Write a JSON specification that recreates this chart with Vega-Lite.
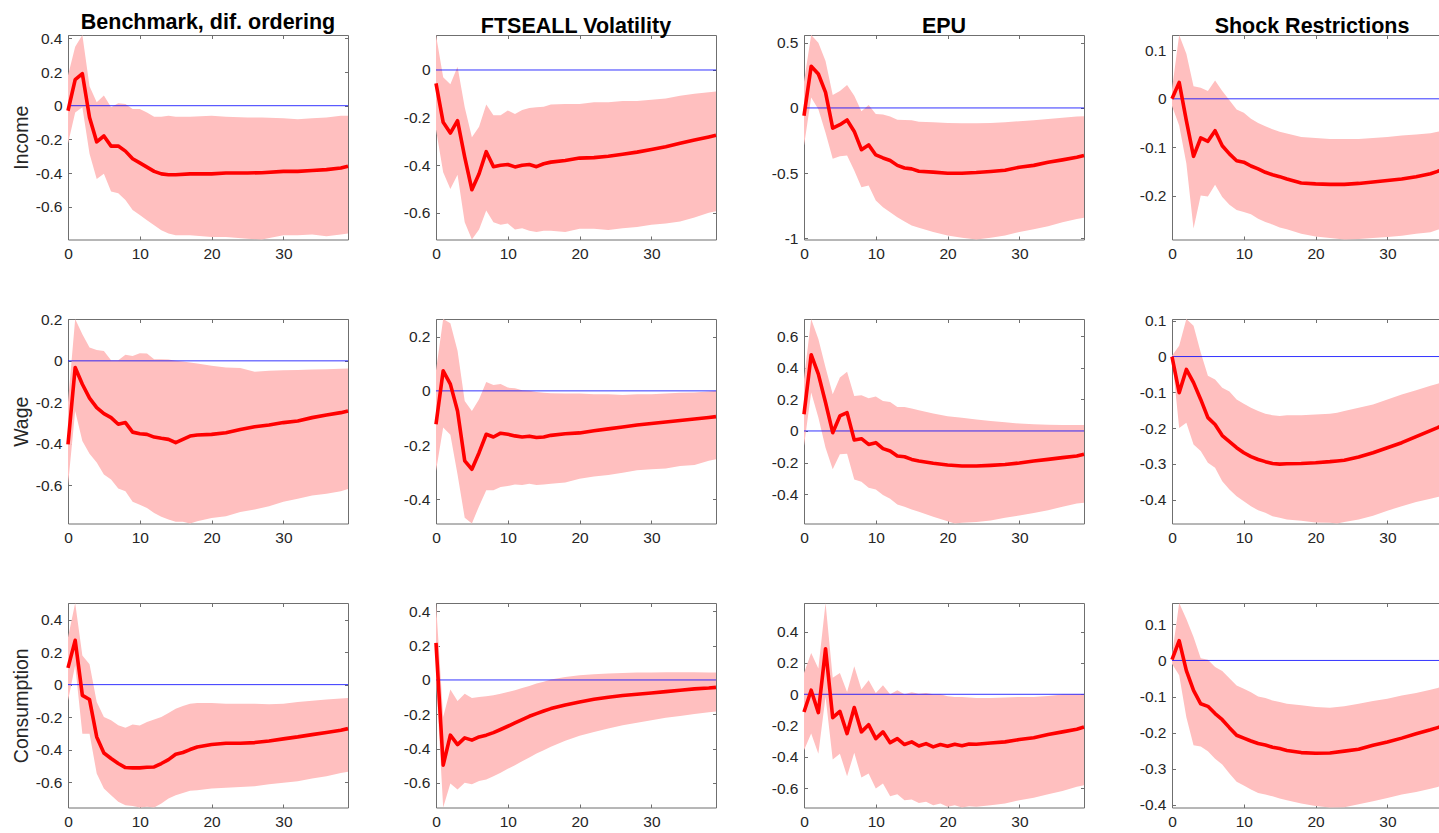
{
"$schema": "https://vega.github.io/schema/vega-lite/v6.json",
"padding": {"left": 10, "top": 11, "right": 5, "bottom": 0},
"background": "white",
"data": {"values": [
{"p":"a","x":0,"m":-0.03,"lo":-0.225,"hi":0.18},{"p":"a","x":1,"m":0.155,"lo":-0.04,"hi":0.35},{"p":"a","x":2,"m":0.19,"lo":-0.01,"hi":0.42},{"p":"a","x":3,"m":-0.07,"lo":-0.285,"hi":0.115},{"p":"a","x":4,"m":-0.215,"lo":-0.435,"hi":0.02},{"p":"a","x":5,"m":-0.18,"lo":-0.405,"hi":0.06},{"p":"a","x":6,"m":-0.24,"lo":-0.51,"hi":-0.01},{"p":"a","x":7,"m":-0.24,"lo":-0.52,"hi":0.015},{"p":"a","x":8,"m":-0.27,"lo":-0.56,"hi":0.01},{"p":"a","x":9,"m":-0.315,"lo":-0.62,"hi":-0.02},{"p":"a","x":10,"m":-0.34,"lo":-0.65,"hi":-0.02},{"p":"a","x":11,"m":-0.365,"lo":-0.68,"hi":-0.04},{"p":"a","x":12,"m":-0.39,"lo":-0.71,"hi":-0.065},{"p":"a","x":13,"m":-0.405,"lo":-0.74,"hi":-0.065},{"p":"a","x":14,"m":-0.41,"lo":-0.76,"hi":-0.06},{"p":"a","x":15,"m":-0.41,"lo":-0.77,"hi":-0.065},{"p":"a","x":17,"m":-0.405,"lo":-0.77,"hi":-0.065},{"p":"a","x":20,"m":-0.405,"lo":-0.78,"hi":-0.06},{"p":"a","x":22,"m":-0.4,"lo":-0.78,"hi":-0.065},{"p":"a","x":25,"m":-0.4,"lo":-0.79,"hi":-0.07},{"p":"a","x":27,"m":-0.398,"lo":-0.795,"hi":-0.07},{"p":"a","x":30,"m":-0.39,"lo":-0.77,"hi":-0.075},{"p":"a","x":32,"m":-0.39,"lo":-0.77,"hi":-0.08},{"p":"a","x":34,"m":-0.385,"lo":-0.765,"hi":-0.075},{"p":"a","x":36,"m":-0.38,"lo":-0.775,"hi":-0.07},{"p":"a","x":38,"m":-0.37,"lo":-0.765,"hi":-0.06},{"p":"a","x":39,"m":-0.36,"lo":-0.76,"hi":-0.06},
{"p":"b","x":0,"m":-0.056,"lo":-0.25,"hi":0.147},{"p":"b","x":1,"m":-0.22,"lo":-0.43,"hi":-0.03},{"p":"b","x":2,"m":-0.265,"lo":-0.5,"hi":-0.06},{"p":"b","x":3,"m":-0.213,"lo":-0.44,"hi":0.014},{"p":"b","x":4,"m":-0.366,"lo":-0.64,"hi":-0.157},{"p":"b","x":5,"m":-0.503,"lo":-0.712,"hi":-0.283},{"p":"b","x":6,"m":-0.436,"lo":-0.67,"hi":-0.238},{"p":"b","x":7,"m":-0.343,"lo":-0.59,"hi":-0.145},{"p":"b","x":8,"m":-0.406,"lo":-0.64,"hi":-0.19},{"p":"b","x":9,"m":-0.4,"lo":-0.65,"hi":-0.19},{"p":"b","x":10,"m":-0.397,"lo":-0.645,"hi":-0.17},{"p":"b","x":11,"m":-0.407,"lo":-0.67,"hi":-0.185},{"p":"b","x":12,"m":-0.4,"lo":-0.665,"hi":-0.168},{"p":"b","x":13,"m":-0.397,"lo":-0.675,"hi":-0.16},{"p":"b","x":14,"m":-0.406,"lo":-0.68,"hi":-0.157},{"p":"b","x":15,"m":-0.394,"lo":-0.675,"hi":-0.154},{"p":"b","x":16,"m":-0.387,"lo":-0.675,"hi":-0.145},{"p":"b","x":18,"m":-0.38,"lo":-0.68,"hi":-0.143},{"p":"b","x":20,"m":-0.37,"lo":-0.667,"hi":-0.143},{"p":"b","x":22,"m":-0.368,"lo":-0.667,"hi":-0.136},{"p":"b","x":24,"m":-0.362,"lo":-0.672,"hi":-0.136},{"p":"b","x":26,"m":-0.354,"lo":-0.665,"hi":-0.13},{"p":"b","x":28,"m":-0.345,"lo":-0.66,"hi":-0.13},{"p":"b","x":30,"m":-0.334,"lo":-0.65,"hi":-0.125},{"p":"b","x":32,"m":-0.322,"lo":-0.645,"hi":-0.12},{"p":"b","x":34,"m":-0.308,"lo":-0.636,"hi":-0.108},{"p":"b","x":36,"m":-0.294,"lo":-0.62,"hi":-0.1},{"p":"b","x":38,"m":-0.281,"lo":-0.6,"hi":-0.094},{"p":"b","x":39,"m":-0.274,"lo":-0.593,"hi":-0.09},
{"p":"c","x":0,"m":-0.06,"lo":-0.29,"hi":0.2},{"p":"c","x":1,"m":0.32,"lo":0.08,"hi":0.559},{"p":"c","x":2,"m":0.26,"lo":-0.01,"hi":0.5},{"p":"c","x":3,"m":0.12,"lo":-0.19,"hi":0.36},{"p":"c","x":4,"m":-0.155,"lo":-0.39,"hi":0.1},{"p":"c","x":5,"m":-0.128,"lo":-0.37,"hi":0.13},{"p":"c","x":6,"m":-0.092,"lo":-0.365,"hi":0.176},{"p":"c","x":7,"m":-0.18,"lo":-0.48,"hi":0.094},{"p":"c","x":8,"m":-0.32,"lo":-0.607,"hi":-0.026},{"p":"c","x":9,"m":-0.283,"lo":-0.594,"hi":0.023},{"p":"c","x":10,"m":-0.36,"lo":-0.71,"hi":-0.046},{"p":"c","x":11,"m":-0.383,"lo":-0.76,"hi":-0.05},{"p":"c","x":12,"m":-0.403,"lo":-0.8,"hi":-0.066},{"p":"c","x":13,"m":-0.44,"lo":-0.837,"hi":-0.09},{"p":"c","x":14,"m":-0.46,"lo":-0.87,"hi":-0.092},{"p":"c","x":15,"m":-0.467,"lo":-0.9,"hi":-0.095},{"p":"c","x":16,"m":-0.485,"lo":-0.918,"hi":-0.105},{"p":"c","x":18,"m":-0.492,"lo":-0.95,"hi":-0.11},{"p":"c","x":20,"m":-0.5,"lo":-0.977,"hi":-0.115},{"p":"c","x":22,"m":-0.5,"lo":-0.995,"hi":-0.118},{"p":"c","x":24,"m":-0.495,"lo":-1.008,"hi":-0.117},{"p":"c","x":26,"m":-0.487,"lo":-0.995,"hi":-0.115},{"p":"c","x":28,"m":-0.477,"lo":-0.977,"hi":-0.11},{"p":"c","x":30,"m":-0.454,"lo":-0.95,"hi":-0.102},{"p":"c","x":32,"m":-0.44,"lo":-0.93,"hi":-0.095},{"p":"c","x":34,"m":-0.416,"lo":-0.906,"hi":-0.084},{"p":"c","x":36,"m":-0.398,"lo":-0.875,"hi":-0.075},{"p":"c","x":38,"m":-0.378,"lo":-0.85,"hi":-0.066},{"p":"c","x":39,"m":-0.365,"lo":-0.842,"hi":-0.064},
{"p":"d","x":0,"m":0.0,"lo":-0.015,"hi":0.02},{"p":"d","x":1,"m":0.034,"lo":-0.055,"hi":0.132},{"p":"d","x":2,"m":-0.045,"lo":-0.134,"hi":0.093},{"p":"d","x":3,"m":-0.119,"lo":-0.268,"hi":0.026},{"p":"d","x":4,"m":-0.081,"lo":-0.2,"hi":0.023},{"p":"d","x":5,"m":-0.088,"lo":-0.202,"hi":0.016},{"p":"d","x":6,"m":-0.066,"lo":-0.178,"hi":0.038},{"p":"d","x":7,"m":-0.097,"lo":-0.203,"hi":0.016},{"p":"d","x":8,"m":-0.114,"lo":-0.219,"hi":-0.003},{"p":"d","x":9,"m":-0.128,"lo":-0.23,"hi":-0.022},{"p":"d","x":10,"m":-0.131,"lo":-0.234,"hi":-0.029},{"p":"d","x":11,"m":-0.139,"lo":-0.239,"hi":-0.041},{"p":"d","x":12,"m":-0.145,"lo":-0.248,"hi":-0.05},{"p":"d","x":13,"m":-0.152,"lo":-0.255,"hi":-0.057},{"p":"d","x":14,"m":-0.157,"lo":-0.26,"hi":-0.063},{"p":"d","x":15,"m":-0.161,"lo":-0.266,"hi":-0.068},{"p":"d","x":16,"m":-0.166,"lo":-0.27,"hi":-0.072},{"p":"d","x":18,"m":-0.174,"lo":-0.279,"hi":-0.079},{"p":"d","x":20,"m":-0.176,"lo":-0.285,"hi":-0.081},{"p":"d","x":22,"m":-0.177,"lo":-0.288,"hi":-0.083},{"p":"d","x":24,"m":-0.177,"lo":-0.291,"hi":-0.083},{"p":"d","x":26,"m":-0.175,"lo":-0.29,"hi":-0.083},{"p":"d","x":28,"m":-0.172,"lo":-0.288,"hi":-0.081},{"p":"d","x":30,"m":-0.169,"lo":-0.286,"hi":-0.079},{"p":"d","x":32,"m":-0.166,"lo":-0.283,"hi":-0.076},{"p":"d","x":34,"m":-0.161,"lo":-0.279,"hi":-0.074},{"p":"d","x":36,"m":-0.155,"lo":-0.276,"hi":-0.071},{"p":"d","x":37,"m":-0.15,"lo":-0.271,"hi":-0.068},{"p":"d","x":38,"m":-0.146,"lo":-0.268,"hi":-0.065},{"p":"d","x":39,"m":-0.141,"lo":-0.265,"hi":-0.062},
{"p":"e","x":0,"m":-0.403,"lo":-0.6,"hi":-0.2},{"p":"e","x":1,"m":-0.032,"lo":-0.242,"hi":0.202},{"p":"e","x":2,"m":-0.113,"lo":-0.387,"hi":0.129},{"p":"e","x":3,"m":-0.18,"lo":-0.448,"hi":0.065},{"p":"e","x":4,"m":-0.226,"lo":-0.49,"hi":0.052},{"p":"e","x":5,"m":-0.255,"lo":-0.548,"hi":0.048},{"p":"e","x":6,"m":-0.274,"lo":-0.573,"hi":0.003},{"p":"e","x":7,"m":-0.306,"lo":-0.616,"hi":0.003},{"p":"e","x":8,"m":-0.298,"lo":-0.629,"hi":0.029},{"p":"e","x":9,"m":-0.344,"lo":-0.68,"hi":0.024},{"p":"e","x":10,"m":-0.352,"lo":-0.694,"hi":0.037},{"p":"e","x":11,"m":-0.355,"lo":-0.71,"hi":0.035},{"p":"e","x":12,"m":-0.368,"lo":-0.734,"hi":0.008},{"p":"e","x":13,"m":-0.374,"lo":-0.753,"hi":0.008},{"p":"e","x":14,"m":-0.379,"lo":-0.766,"hi":0.006},{"p":"e","x":15,"m":-0.395,"lo":-0.777,"hi":0.0},{"p":"e","x":16,"m":-0.379,"lo":-0.777,"hi":-0.003},{"p":"e","x":17,"m":-0.363,"lo":-0.785,"hi":-0.008},{"p":"e","x":18,"m":-0.358,"lo":-0.774,"hi":-0.013},{"p":"e","x":20,"m":-0.355,"lo":-0.758,"hi":-0.024},{"p":"e","x":22,"m":-0.347,"lo":-0.75,"hi":-0.032},{"p":"e","x":24,"m":-0.331,"lo":-0.729,"hi":-0.035},{"p":"e","x":26,"m":-0.318,"lo":-0.718,"hi":-0.052},{"p":"e","x":28,"m":-0.31,"lo":-0.702,"hi":-0.048},{"p":"e","x":30,"m":-0.298,"lo":-0.68,"hi":-0.045},{"p":"e","x":32,"m":-0.29,"lo":-0.666,"hi":-0.044},{"p":"e","x":34,"m":-0.274,"lo":-0.65,"hi":-0.042},{"p":"e","x":36,"m":-0.261,"lo":-0.642,"hi":-0.04},{"p":"e","x":38,"m":-0.25,"lo":-0.629,"hi":-0.038},{"p":"e","x":39,"m":-0.242,"lo":-0.618,"hi":-0.037},
{"p":"f","x":0,"m":-0.123,"lo":-0.295,"hi":0.074},{"p":"f","x":1,"m":0.074,"lo":-0.135,"hi":0.265},{"p":"f","x":2,"m":0.025,"lo":-0.162,"hi":0.249},{"p":"f","x":3,"m":-0.074,"lo":-0.308,"hi":0.148},{"p":"f","x":4,"m":-0.258,"lo":-0.468,"hi":-0.037},{"p":"f","x":5,"m":-0.289,"lo":-0.489,"hi":-0.074},{"p":"f","x":6,"m":-0.228,"lo":-0.425,"hi":-0.031},{"p":"f","x":7,"m":-0.16,"lo":-0.366,"hi":0.033},{"p":"f","x":8,"m":-0.17,"lo":-0.366,"hi":0.022},{"p":"f","x":9,"m":-0.156,"lo":-0.354,"hi":0.025},{"p":"f","x":10,"m":-0.16,"lo":-0.351,"hi":0.012},{"p":"f","x":11,"m":-0.166,"lo":-0.345,"hi":0.01},{"p":"f","x":12,"m":-0.17,"lo":-0.347,"hi":0.002},{"p":"f","x":13,"m":-0.167,"lo":-0.342,"hi":0.0},{"p":"f","x":14,"m":-0.172,"lo":-0.347,"hi":-0.004},{"p":"f","x":15,"m":-0.17,"lo":-0.345,"hi":-0.007},{"p":"f","x":16,"m":-0.164,"lo":-0.342,"hi":-0.009},{"p":"f","x":18,"m":-0.158,"lo":-0.338,"hi":-0.01},{"p":"f","x":20,"m":-0.155,"lo":-0.324,"hi":-0.01},{"p":"f","x":22,"m":-0.147,"lo":-0.316,"hi":-0.012},{"p":"f","x":24,"m":-0.14,"lo":-0.31,"hi":-0.012},{"p":"f","x":26,"m":-0.133,"lo":-0.302,"hi":-0.015},{"p":"f","x":28,"m":-0.126,"lo":-0.293,"hi":-0.012},{"p":"f","x":30,"m":-0.12,"lo":-0.289,"hi":-0.012},{"p":"f","x":32,"m":-0.115,"lo":-0.286,"hi":-0.01},{"p":"f","x":34,"m":-0.109,"lo":-0.277,"hi":-0.007},{"p":"f","x":36,"m":-0.104,"lo":-0.273,"hi":-0.006},{"p":"f","x":38,"m":-0.098,"lo":-0.258,"hi":-0.002},{"p":"f","x":39,"m":-0.095,"lo":-0.252,"hi":0.0},
{"p":"g","x":0,"m":0.106,"lo":-0.095,"hi":0.328},{"p":"g","x":1,"m":0.483,"lo":0.243,"hi":0.709},{"p":"g","x":2,"m":0.36,"lo":0.085,"hi":0.582},{"p":"g","x":3,"m":0.18,"lo":-0.106,"hi":0.402},{"p":"g","x":4,"m":-0.011,"lo":-0.243,"hi":0.233},{"p":"g","x":5,"m":0.095,"lo":-0.148,"hi":0.339},{"p":"g","x":6,"m":0.116,"lo":-0.144,"hi":0.375},{"p":"g","x":7,"m":-0.057,"lo":-0.307,"hi":0.222},{"p":"g","x":8,"m":-0.049,"lo":-0.322,"hi":0.226},{"p":"g","x":9,"m":-0.085,"lo":-0.36,"hi":0.207},{"p":"g","x":10,"m":-0.074,"lo":-0.37,"hi":0.218},{"p":"g","x":11,"m":-0.112,"lo":-0.406,"hi":0.19},{"p":"g","x":12,"m":-0.127,"lo":-0.43,"hi":0.184},{"p":"g","x":13,"m":-0.159,"lo":-0.466,"hi":0.152},{"p":"g","x":14,"m":-0.163,"lo":-0.48,"hi":0.152},{"p":"g","x":15,"m":-0.18,"lo":-0.497,"hi":0.142},{"p":"g","x":16,"m":-0.19,"lo":-0.512,"hi":0.131},{"p":"g","x":18,"m":-0.205,"lo":-0.544,"hi":0.11},{"p":"g","x":20,"m":-0.216,"lo":-0.571,"hi":0.093},{"p":"g","x":21,"m":-0.219,"lo":-0.586,"hi":0.088},{"p":"g","x":22,"m":-0.222,"lo":-0.582,"hi":0.083},{"p":"g","x":24,"m":-0.222,"lo":-0.576,"hi":0.072},{"p":"g","x":26,"m":-0.218,"lo":-0.567,"hi":0.063},{"p":"g","x":28,"m":-0.212,"lo":-0.55,"hi":0.055},{"p":"g","x":30,"m":-0.203,"lo":-0.535,"hi":0.047},{"p":"g","x":32,"m":-0.19,"lo":-0.519,"hi":0.042},{"p":"g","x":34,"m":-0.18,"lo":-0.502,"hi":0.04},{"p":"g","x":36,"m":-0.169,"lo":-0.48,"hi":0.038},{"p":"g","x":38,"m":-0.159,"lo":-0.459,"hi":0.038},{"p":"g","x":39,"m":-0.148,"lo":-0.455,"hi":0.038},
{"p":"h","x":0,"m":0.0,"lo":-0.002,"hi":0.002},{"p":"h","x":1,"m":-0.101,"lo":-0.2,"hi":0.03},{"p":"h","x":2,"m":-0.036,"lo":-0.185,"hi":0.105},{"p":"h","x":3,"m":-0.073,"lo":-0.246,"hi":0.086},{"p":"h","x":4,"m":-0.12,"lo":-0.264,"hi":0.011},{"p":"h","x":5,"m":-0.171,"lo":-0.297,"hi":-0.054},{"p":"h","x":6,"m":-0.19,"lo":-0.311,"hi":-0.064},{"p":"h","x":7,"m":-0.221,"lo":-0.349,"hi":-0.087},{"p":"h","x":8,"m":-0.238,"lo":-0.372,"hi":-0.098},{"p":"h","x":9,"m":-0.255,"lo":-0.391,"hi":-0.12},{"p":"h","x":10,"m":-0.269,"lo":-0.405,"hi":-0.132},{"p":"h","x":11,"m":-0.28,"lo":-0.419,"hi":-0.143},{"p":"h","x":12,"m":-0.288,"lo":-0.43,"hi":-0.152},{"p":"h","x":13,"m":-0.294,"lo":-0.437,"hi":-0.16},{"p":"h","x":14,"m":-0.299,"lo":-0.447,"hi":-0.164},{"p":"h","x":15,"m":-0.301,"lo":-0.451,"hi":-0.166},{"p":"h","x":16,"m":-0.3,"lo":-0.456,"hi":-0.164},{"p":"h","x":18,"m":-0.299,"lo":-0.459,"hi":-0.164},{"p":"h","x":20,"m":-0.297,"lo":-0.464,"hi":-0.162},{"p":"h","x":22,"m":-0.294,"lo":-0.465,"hi":-0.16},{"p":"h","x":23,"m":-0.292,"lo":-0.467,"hi":-0.157},{"p":"h","x":24,"m":-0.29,"lo":-0.463,"hi":-0.152},{"p":"h","x":26,"m":-0.281,"lo":-0.456,"hi":-0.143},{"p":"h","x":28,"m":-0.269,"lo":-0.445,"hi":-0.134},{"p":"h","x":30,"m":-0.255,"lo":-0.431,"hi":-0.12},{"p":"h","x":32,"m":-0.241,"lo":-0.419,"hi":-0.106},{"p":"h","x":34,"m":-0.224,"lo":-0.407,"hi":-0.094},{"p":"h","x":36,"m":-0.207,"lo":-0.398,"hi":-0.082},{"p":"h","x":37,"m":-0.199,"lo":-0.393,"hi":-0.076},{"p":"h","x":38,"m":-0.19,"lo":-0.388,"hi":-0.07},{"p":"h","x":39,"m":-0.182,"lo":-0.383,"hi":-0.064},
{"p":"i","x":0,"m":0.103,"lo":-0.1,"hi":0.29},{"p":"i","x":1,"m":0.273,"lo":0.119,"hi":0.503},{"p":"i","x":2,"m":-0.066,"lo":-0.302,"hi":0.18},{"p":"i","x":3,"m":-0.092,"lo":-0.302,"hi":0.125},{"p":"i","x":4,"m":-0.322,"lo":-0.548,"hi":-0.107},{"p":"i","x":5,"m":-0.421,"lo":-0.64,"hi":-0.199},{"p":"i","x":6,"m":-0.455,"lo":-0.681,"hi":-0.219},{"p":"i","x":7,"m":-0.486,"lo":-0.722,"hi":-0.25},{"p":"i","x":8,"m":-0.511,"lo":-0.743,"hi":-0.265},{"p":"i","x":9,"m":-0.513,"lo":-0.747,"hi":-0.246},{"p":"i","x":10,"m":-0.513,"lo":-0.757,"hi":-0.252},{"p":"i","x":11,"m":-0.509,"lo":-0.753,"hi":-0.23},{"p":"i","x":12,"m":-0.507,"lo":-0.757,"hi":-0.215},{"p":"i","x":13,"m":-0.486,"lo":-0.732,"hi":-0.199},{"p":"i","x":14,"m":-0.462,"lo":-0.702,"hi":-0.174},{"p":"i","x":15,"m":-0.429,"lo":-0.681,"hi":-0.148},{"p":"i","x":16,"m":-0.418,"lo":-0.667,"hi":-0.131},{"p":"i","x":17,"m":-0.4,"lo":-0.654,"hi":-0.117},{"p":"i","x":18,"m":-0.384,"lo":-0.65,"hi":-0.113},{"p":"i","x":20,"m":-0.369,"lo":-0.64,"hi":-0.113},{"p":"i","x":22,"m":-0.361,"lo":-0.636,"hi":-0.117},{"p":"i","x":24,"m":-0.361,"lo":-0.63,"hi":-0.117},{"p":"i","x":26,"m":-0.357,"lo":-0.626,"hi":-0.117},{"p":"i","x":28,"m":-0.347,"lo":-0.613,"hi":-0.121},{"p":"i","x":30,"m":-0.334,"lo":-0.605,"hi":-0.117},{"p":"i","x":32,"m":-0.322,"lo":-0.595,"hi":-0.107},{"p":"i","x":34,"m":-0.308,"lo":-0.578,"hi":-0.1},{"p":"i","x":36,"m":-0.295,"lo":-0.564,"hi":-0.092},{"p":"i","x":38,"m":-0.281,"lo":-0.544,"hi":-0.086},{"p":"i","x":39,"m":-0.271,"lo":-0.537,"hi":-0.082},
{"p":"j","x":0,"m":0.216,"lo":0.01,"hi":0.449},{"p":"j","x":1,"m":-0.497,"lo":-0.744,"hi":-0.216},{"p":"j","x":2,"m":-0.322,"lo":-0.604,"hi":-0.056},{"p":"j","x":3,"m":-0.377,"lo":-0.639,"hi":-0.122},{"p":"j","x":4,"m":-0.338,"lo":-0.6,"hi":-0.08},{"p":"j","x":5,"m":-0.351,"lo":-0.608,"hi":-0.105},{"p":"j","x":6,"m":-0.332,"lo":-0.59,"hi":-0.099},{"p":"j","x":7,"m":-0.322,"lo":-0.581,"hi":-0.095},{"p":"j","x":8,"m":-0.307,"lo":-0.561,"hi":-0.089},{"p":"j","x":9,"m":-0.289,"lo":-0.542,"hi":-0.08},{"p":"j","x":10,"m":-0.27,"lo":-0.518,"hi":-0.07},{"p":"j","x":11,"m":-0.25,"lo":-0.497,"hi":-0.06},{"p":"j","x":12,"m":-0.231,"lo":-0.474,"hi":-0.047},{"p":"j","x":13,"m":-0.212,"lo":-0.452,"hi":-0.035},{"p":"j","x":14,"m":-0.196,"lo":-0.429,"hi":-0.021},{"p":"j","x":15,"m":-0.181,"lo":-0.41,"hi":-0.01},{"p":"j","x":16,"m":-0.167,"lo":-0.39,"hi":0.002},{"p":"j","x":18,"m":-0.146,"lo":-0.355,"hi":0.017},{"p":"j","x":20,"m":-0.128,"lo":-0.326,"hi":0.027},{"p":"j","x":22,"m":-0.113,"lo":-0.303,"hi":0.033},{"p":"j","x":24,"m":-0.101,"lo":-0.283,"hi":0.037},{"p":"j","x":26,"m":-0.091,"lo":-0.264,"hi":0.041},{"p":"j","x":28,"m":-0.083,"lo":-0.249,"hi":0.043},{"p":"j","x":30,"m":-0.076,"lo":-0.235,"hi":0.043},{"p":"j","x":32,"m":-0.068,"lo":-0.221,"hi":0.045},{"p":"j","x":34,"m":-0.06,"lo":-0.21,"hi":0.045},{"p":"j","x":36,"m":-0.052,"lo":-0.198,"hi":0.045},{"p":"j","x":38,"m":-0.047,"lo":-0.188,"hi":0.043},{"p":"j","x":39,"m":-0.043,"lo":-0.184,"hi":0.043},
{"p":"k","x":0,"m":-0.113,"lo":-0.357,"hi":0.136},{"p":"k","x":1,"m":0.026,"lo":-0.251,"hi":0.264},{"p":"k","x":2,"m":-0.117,"lo":-0.379,"hi":0.164},{"p":"k","x":3,"m":0.291,"lo":-0.015,"hi":0.583},{"p":"k","x":4,"m":-0.149,"lo":-0.417,"hi":0.106},{"p":"k","x":5,"m":-0.109,"lo":-0.379,"hi":0.136},{"p":"k","x":6,"m":-0.251,"lo":-0.523,"hi":0.015},{"p":"k","x":7,"m":-0.085,"lo":-0.374,"hi":0.179},{"p":"k","x":8,"m":-0.24,"lo":-0.532,"hi":0.03},{"p":"k","x":9,"m":-0.194,"lo":-0.506,"hi":0.089},{"p":"k","x":10,"m":-0.283,"lo":-0.602,"hi":0.009},{"p":"k","x":11,"m":-0.24,"lo":-0.57,"hi":0.057},{"p":"k","x":12,"m":-0.309,"lo":-0.651,"hi":0.0},{"p":"k","x":13,"m":-0.283,"lo":-0.638,"hi":0.026},{"p":"k","x":14,"m":-0.321,"lo":-0.677,"hi":0.0},{"p":"k","x":15,"m":-0.304,"lo":-0.672,"hi":0.013},{"p":"k","x":16,"m":-0.33,"lo":-0.694,"hi":0.004},{"p":"k","x":17,"m":-0.315,"lo":-0.687,"hi":0.009},{"p":"k","x":18,"m":-0.336,"lo":-0.709,"hi":0.0},{"p":"k","x":19,"m":-0.321,"lo":-0.698,"hi":0.0},{"p":"k","x":20,"m":-0.332,"lo":-0.719,"hi":-0.013},{"p":"k","x":21,"m":-0.319,"lo":-0.709,"hi":-0.017},{"p":"k","x":22,"m":-0.328,"lo":-0.723,"hi":-0.017},{"p":"k","x":23,"m":-0.317,"lo":-0.715,"hi":-0.021},{"p":"k","x":24,"m":-0.319,"lo":-0.719,"hi":-0.023},{"p":"k","x":26,"m":-0.311,"lo":-0.709,"hi":-0.023},{"p":"k","x":28,"m":-0.304,"lo":-0.698,"hi":-0.021},{"p":"k","x":30,"m":-0.289,"lo":-0.677,"hi":-0.017},{"p":"k","x":32,"m":-0.277,"lo":-0.66,"hi":-0.017},{"p":"k","x":34,"m":-0.257,"lo":-0.638,"hi":-0.011},{"p":"k","x":36,"m":-0.24,"lo":-0.617,"hi":-0.002},{"p":"k","x":38,"m":-0.223,"lo":-0.591,"hi":0.0},{"p":"k","x":39,"m":-0.209,"lo":-0.581,"hi":0.0},
{"p":"l","x":0,"m":0.002,"lo":-0.009,"hi":0.014},{"p":"l","x":1,"m":0.055,"lo":-0.041,"hi":0.159},{"p":"l","x":2,"m":-0.028,"lo":-0.157,"hi":0.115},{"p":"l","x":3,"m":-0.083,"lo":-0.235,"hi":0.065},{"p":"l","x":4,"m":-0.12,"lo":-0.238,"hi":0.006},{"p":"l","x":5,"m":-0.127,"lo":-0.251,"hi":0.002},{"p":"l","x":6,"m":-0.147,"lo":-0.272,"hi":-0.018},{"p":"l","x":7,"m":-0.164,"lo":-0.288,"hi":-0.029},{"p":"l","x":8,"m":-0.186,"lo":-0.313,"hi":-0.049},{"p":"l","x":9,"m":-0.207,"lo":-0.336,"hi":-0.069},{"p":"l","x":10,"m":-0.215,"lo":-0.346,"hi":-0.078},{"p":"l","x":11,"m":-0.223,"lo":-0.357,"hi":-0.088},{"p":"l","x":12,"m":-0.23,"lo":-0.367,"hi":-0.1},{"p":"l","x":13,"m":-0.234,"lo":-0.371,"hi":-0.104},{"p":"l","x":14,"m":-0.24,"lo":-0.376,"hi":-0.111},{"p":"l","x":15,"m":-0.244,"lo":-0.382,"hi":-0.115},{"p":"l","x":16,"m":-0.249,"lo":-0.387,"hi":-0.12},{"p":"l","x":18,"m":-0.255,"lo":-0.396,"hi":-0.124},{"p":"l","x":20,"m":-0.257,"lo":-0.403,"hi":-0.129},{"p":"l","x":22,"m":-0.256,"lo":-0.407,"hi":-0.131},{"p":"l","x":24,"m":-0.251,"lo":-0.406,"hi":-0.127},{"p":"l","x":26,"m":-0.246,"lo":-0.398,"hi":-0.12},{"p":"l","x":28,"m":-0.235,"lo":-0.39,"hi":-0.112},{"p":"l","x":30,"m":-0.226,"lo":-0.381,"hi":-0.106},{"p":"l","x":32,"m":-0.215,"lo":-0.371,"hi":-0.097},{"p":"l","x":34,"m":-0.203,"lo":-0.364,"hi":-0.09},{"p":"l","x":36,"m":-0.192,"lo":-0.355,"hi":-0.081},{"p":"l","x":37,"m":-0.186,"lo":-0.35,"hi":-0.076},{"p":"l","x":38,"m":-0.18,"lo":-0.345,"hi":-0.071},{"p":"l","x":39,"m":-0.174,"lo":-0.34,"hi":-0.066}
]},
"columns": 4,
"spacing": {"row": 79, "column": 88},
"bounds": "flush",
"concat": [
{"width":280,"height":204.5,"title":"Benchmark, dif. ordering","layer":[
 {"transform":[{"filter":"datum.p=='a'"}],"mark":{"type":"area","color":"#ffbfbf"},"encoding":{"x":{"field":"x","type":"quantitative","scale":{"domain":[0,39],"nice":false},"axis":{"values":[0,10,20,30],"labelExpr":"''+datum.value","title":null}},"y":{"field":"lo","type":"quantitative","scale":{"zero":false,"nice":false},"axis":{"values":[-0.6,-0.4,-0.2,0,0.2,0.4],"labelExpr":"''+datum.value","title":"Income","titleFontSize":19.5,"titleFontWeight":"normal","titleColor":"#262626","titleX":-41,"titleBaseline":"alphabetic"}},"y2":{"field":"hi"}}},
 {"data":{"values":[{"z":0}]},"mark":{"type":"rule","color":"#0000ff","strokeWidth":1,"opacity":0.8},"encoding":{"y":{"field":"z","type":"quantitative","axis":null}}},
 {"transform":[{"filter":"datum.p=='a'"}],"mark":{"type":"line","color":"#ff0000","strokeWidth":3.6,"strokeJoin":"round"},"encoding":{"x":{"field":"x","type":"quantitative","axis":{"orient":"top","values":[0,10,20,30],"labels":false,"title":null}},"y":{"field":"m","type":"quantitative","axis":{"orient":"right","values":[-0.6,-0.4,-0.2,0,0.2,0.4],"labels":false,"title":null}}}}
],"resolve":{"axis":{"x":"independent","y":"independent"}}},
{"width":280,"height":204.5,"title":"FTSEALL Volatility","layer":[
 {"transform":[{"filter":"datum.p=='b'"}],"mark":{"type":"area","color":"#ffbfbf"},"encoding":{"x":{"field":"x","type":"quantitative","scale":{"domain":[0,39],"nice":false},"axis":{"values":[0,10,20,30],"labelExpr":"''+datum.value","title":null}},"y":{"field":"lo","type":"quantitative","scale":{"zero":false,"nice":false},"axis":{"values":[-0.6,-0.4,-0.2,0],"labelExpr":"''+datum.value","title":null}},"y2":{"field":"hi"}}},
 {"data":{"values":[{"z":0}]},"mark":{"type":"rule","color":"#0000ff","strokeWidth":1,"opacity":0.8},"encoding":{"y":{"field":"z","type":"quantitative","axis":null}}},
 {"transform":[{"filter":"datum.p=='b'"}],"mark":{"type":"line","color":"#ff0000","strokeWidth":3.6,"strokeJoin":"round"},"encoding":{"x":{"field":"x","type":"quantitative","axis":{"orient":"top","values":[0,10,20,30],"labels":false,"title":null}},"y":{"field":"m","type":"quantitative","axis":{"orient":"right","values":[-0.6,-0.4,-0.2,0],"labels":false,"title":null}}}}
],"resolve":{"axis":{"x":"independent","y":"independent"}}},
{"width":280,"height":204.5,"title":"EPU","layer":[
 {"transform":[{"filter":"datum.p=='c'"}],"mark":{"type":"area","color":"#ffbfbf"},"encoding":{"x":{"field":"x","type":"quantitative","scale":{"domain":[0,39],"nice":false},"axis":{"values":[0,10,20,30],"labelExpr":"''+datum.value","title":null}},"y":{"field":"lo","type":"quantitative","scale":{"zero":false,"nice":false},"axis":{"values":[-1,-0.5,0,0.5],"labelExpr":"''+datum.value","title":null}},"y2":{"field":"hi"}}},
 {"data":{"values":[{"z":0}]},"mark":{"type":"rule","color":"#0000ff","strokeWidth":1,"opacity":0.8},"encoding":{"y":{"field":"z","type":"quantitative","axis":null}}},
 {"transform":[{"filter":"datum.p=='c'"}],"mark":{"type":"line","color":"#ff0000","strokeWidth":3.6,"strokeJoin":"round"},"encoding":{"x":{"field":"x","type":"quantitative","axis":{"orient":"top","values":[0,10,20,30],"labels":false,"title":null}},"y":{"field":"m","type":"quantitative","axis":{"orient":"right","values":[-1,-0.5,0,0.5],"labels":false,"title":null}}}}
],"resolve":{"axis":{"x":"independent","y":"independent"}}},
{"width":280,"height":204.5,"title":"Shock Restrictions","layer":[
 {"transform":[{"filter":"datum.p=='d'"}],"mark":{"type":"area","color":"#ffbfbf"},"encoding":{"x":{"field":"x","type":"quantitative","scale":{"domain":[0,39],"nice":false},"axis":{"values":[0,10,20,30],"labelExpr":"''+datum.value","title":null}},"y":{"field":"lo","type":"quantitative","scale":{"zero":false,"nice":false},"axis":{"values":[-0.2,-0.1,0,0.1],"labelExpr":"''+datum.value","title":null}},"y2":{"field":"hi"}}},
 {"data":{"values":[{"z":0}]},"mark":{"type":"rule","color":"#0000ff","strokeWidth":1,"opacity":0.8},"encoding":{"y":{"field":"z","type":"quantitative","axis":null}}},
 {"transform":[{"filter":"datum.p=='d'"}],"mark":{"type":"line","color":"#ff0000","strokeWidth":3.6,"strokeJoin":"round"},"encoding":{"x":{"field":"x","type":"quantitative","axis":{"orient":"top","values":[0,10,20,30],"labels":false,"title":null}},"y":{"field":"m","type":"quantitative","axis":{"orient":"right","values":[-0.2,-0.1,0,0.1],"labels":false,"title":null}}}}
],"resolve":{"axis":{"x":"independent","y":"independent"}}},
{"width":280,"height":204.5,"layer":[
 {"transform":[{"filter":"datum.p=='e'"}],"mark":{"type":"area","color":"#ffbfbf"},"encoding":{"x":{"field":"x","type":"quantitative","scale":{"domain":[0,39],"nice":false},"axis":{"values":[0,10,20,30],"labelExpr":"''+datum.value","title":null}},"y":{"field":"lo","type":"quantitative","scale":{"zero":false,"nice":false},"axis":{"values":[-0.6,-0.4,-0.2,0,0.2],"labelExpr":"''+datum.value","title":"Wage","titleFontSize":19.5,"titleFontWeight":"normal","titleColor":"#262626","titleX":-41,"titleBaseline":"alphabetic"}},"y2":{"field":"hi"}}},
 {"data":{"values":[{"z":0}]},"mark":{"type":"rule","color":"#0000ff","strokeWidth":1,"opacity":0.8},"encoding":{"y":{"field":"z","type":"quantitative","axis":null}}},
 {"transform":[{"filter":"datum.p=='e'"}],"mark":{"type":"line","color":"#ff0000","strokeWidth":3.6,"strokeJoin":"round"},"encoding":{"x":{"field":"x","type":"quantitative","axis":{"orient":"top","values":[0,10,20,30],"labels":false,"title":null}},"y":{"field":"m","type":"quantitative","axis":{"orient":"right","values":[-0.6,-0.4,-0.2,0,0.2],"labels":false,"title":null}}}}
],"resolve":{"axis":{"x":"independent","y":"independent"}}},
{"width":280,"height":204.5,"layer":[
 {"transform":[{"filter":"datum.p=='f'"}],"mark":{"type":"area","color":"#ffbfbf"},"encoding":{"x":{"field":"x","type":"quantitative","scale":{"domain":[0,39],"nice":false},"axis":{"values":[0,10,20,30],"labelExpr":"''+datum.value","title":null}},"y":{"field":"lo","type":"quantitative","scale":{"zero":false,"nice":false},"axis":{"values":[-0.4,-0.2,0,0.2],"labelExpr":"''+datum.value","title":null}},"y2":{"field":"hi"}}},
 {"data":{"values":[{"z":0}]},"mark":{"type":"rule","color":"#0000ff","strokeWidth":1,"opacity":0.8},"encoding":{"y":{"field":"z","type":"quantitative","axis":null}}},
 {"transform":[{"filter":"datum.p=='f'"}],"mark":{"type":"line","color":"#ff0000","strokeWidth":3.6,"strokeJoin":"round"},"encoding":{"x":{"field":"x","type":"quantitative","axis":{"orient":"top","values":[0,10,20,30],"labels":false,"title":null}},"y":{"field":"m","type":"quantitative","axis":{"orient":"right","values":[-0.4,-0.2,0,0.2],"labels":false,"title":null}}}}
],"resolve":{"axis":{"x":"independent","y":"independent"}}},
{"width":280,"height":204.5,"layer":[
 {"transform":[{"filter":"datum.p=='g'"}],"mark":{"type":"area","color":"#ffbfbf"},"encoding":{"x":{"field":"x","type":"quantitative","scale":{"domain":[0,39],"nice":false},"axis":{"values":[0,10,20,30],"labelExpr":"''+datum.value","title":null}},"y":{"field":"lo","type":"quantitative","scale":{"zero":false,"nice":false},"axis":{"values":[-0.4,-0.2,0,0.2,0.4,0.6],"labelExpr":"''+datum.value","title":null}},"y2":{"field":"hi"}}},
 {"data":{"values":[{"z":0}]},"mark":{"type":"rule","color":"#0000ff","strokeWidth":1,"opacity":0.8},"encoding":{"y":{"field":"z","type":"quantitative","axis":null}}},
 {"transform":[{"filter":"datum.p=='g'"}],"mark":{"type":"line","color":"#ff0000","strokeWidth":3.6,"strokeJoin":"round"},"encoding":{"x":{"field":"x","type":"quantitative","axis":{"orient":"top","values":[0,10,20,30],"labels":false,"title":null}},"y":{"field":"m","type":"quantitative","axis":{"orient":"right","values":[-0.4,-0.2,0,0.2,0.4,0.6],"labels":false,"title":null}}}}
],"resolve":{"axis":{"x":"independent","y":"independent"}}},
{"width":280,"height":204.5,"layer":[
 {"transform":[{"filter":"datum.p=='h'"}],"mark":{"type":"area","color":"#ffbfbf"},"encoding":{"x":{"field":"x","type":"quantitative","scale":{"domain":[0,39],"nice":false},"axis":{"values":[0,10,20,30],"labelExpr":"''+datum.value","title":null}},"y":{"field":"lo","type":"quantitative","scale":{"zero":false,"nice":false},"axis":{"values":[-0.4,-0.3,-0.2,-0.1,0,0.1],"labelExpr":"''+datum.value","title":null}},"y2":{"field":"hi"}}},
 {"data":{"values":[{"z":0}]},"mark":{"type":"rule","color":"#0000ff","strokeWidth":1,"opacity":0.8},"encoding":{"y":{"field":"z","type":"quantitative","axis":null}}},
 {"transform":[{"filter":"datum.p=='h'"}],"mark":{"type":"line","color":"#ff0000","strokeWidth":3.6,"strokeJoin":"round"},"encoding":{"x":{"field":"x","type":"quantitative","axis":{"orient":"top","values":[0,10,20,30],"labels":false,"title":null}},"y":{"field":"m","type":"quantitative","axis":{"orient":"right","values":[-0.4,-0.3,-0.2,-0.1,0,0.1],"labels":false,"title":null}}}}
],"resolve":{"axis":{"x":"independent","y":"independent"}}},
{"width":280,"height":204.5,"layer":[
 {"transform":[{"filter":"datum.p=='i'"}],"mark":{"type":"area","color":"#ffbfbf"},"encoding":{"x":{"field":"x","type":"quantitative","scale":{"domain":[0,39],"nice":false},"axis":{"values":[0,10,20,30],"labelExpr":"''+datum.value","title":null}},"y":{"field":"lo","type":"quantitative","scale":{"zero":false,"nice":false},"axis":{"values":[-0.6,-0.4,-0.2,0,0.2,0.4],"labelExpr":"''+datum.value","title":"Consumption","titleFontSize":19.5,"titleFontWeight":"normal","titleColor":"#262626","titleX":-41,"titleBaseline":"alphabetic"}},"y2":{"field":"hi"}}},
 {"data":{"values":[{"z":0}]},"mark":{"type":"rule","color":"#0000ff","strokeWidth":1,"opacity":0.8},"encoding":{"y":{"field":"z","type":"quantitative","axis":null}}},
 {"transform":[{"filter":"datum.p=='i'"}],"mark":{"type":"line","color":"#ff0000","strokeWidth":3.6,"strokeJoin":"round"},"encoding":{"x":{"field":"x","type":"quantitative","axis":{"orient":"top","values":[0,10,20,30],"labels":false,"title":null}},"y":{"field":"m","type":"quantitative","axis":{"orient":"right","values":[-0.6,-0.4,-0.2,0,0.2,0.4],"labels":false,"title":null}}}}
],"resolve":{"axis":{"x":"independent","y":"independent"}}},
{"width":280,"height":204.5,"layer":[
 {"transform":[{"filter":"datum.p=='j'"}],"mark":{"type":"area","color":"#ffbfbf"},"encoding":{"x":{"field":"x","type":"quantitative","scale":{"domain":[0,39],"nice":false},"axis":{"values":[0,10,20,30],"labelExpr":"''+datum.value","title":null}},"y":{"field":"lo","type":"quantitative","scale":{"zero":false,"nice":false},"axis":{"values":[-0.6,-0.4,-0.2,0,0.2,0.4],"labelExpr":"''+datum.value","title":null}},"y2":{"field":"hi"}}},
 {"data":{"values":[{"z":0}]},"mark":{"type":"rule","color":"#0000ff","strokeWidth":1,"opacity":0.8},"encoding":{"y":{"field":"z","type":"quantitative","axis":null}}},
 {"transform":[{"filter":"datum.p=='j'"}],"mark":{"type":"line","color":"#ff0000","strokeWidth":3.6,"strokeJoin":"round"},"encoding":{"x":{"field":"x","type":"quantitative","axis":{"orient":"top","values":[0,10,20,30],"labels":false,"title":null}},"y":{"field":"m","type":"quantitative","axis":{"orient":"right","values":[-0.6,-0.4,-0.2,0,0.2,0.4],"labels":false,"title":null}}}}
],"resolve":{"axis":{"x":"independent","y":"independent"}}},
{"width":280,"height":204.5,"layer":[
 {"transform":[{"filter":"datum.p=='k'"}],"mark":{"type":"area","color":"#ffbfbf"},"encoding":{"x":{"field":"x","type":"quantitative","scale":{"domain":[0,39],"nice":false},"axis":{"values":[0,10,20,30],"labelExpr":"''+datum.value","title":null}},"y":{"field":"lo","type":"quantitative","scale":{"zero":false,"nice":false},"axis":{"values":[-0.6,-0.4,-0.2,0,0.2,0.4],"labelExpr":"''+datum.value","title":null}},"y2":{"field":"hi"}}},
 {"data":{"values":[{"z":0}]},"mark":{"type":"rule","color":"#0000ff","strokeWidth":1,"opacity":0.8},"encoding":{"y":{"field":"z","type":"quantitative","axis":null}}},
 {"transform":[{"filter":"datum.p=='k'"}],"mark":{"type":"line","color":"#ff0000","strokeWidth":3.6,"strokeJoin":"round"},"encoding":{"x":{"field":"x","type":"quantitative","axis":{"orient":"top","values":[0,10,20,30],"labels":false,"title":null}},"y":{"field":"m","type":"quantitative","axis":{"orient":"right","values":[-0.6,-0.4,-0.2,0,0.2,0.4],"labels":false,"title":null}}}}
],"resolve":{"axis":{"x":"independent","y":"independent"}}},
{"width":280,"height":204.5,"layer":[
 {"transform":[{"filter":"datum.p=='l'"}],"mark":{"type":"area","color":"#ffbfbf"},"encoding":{"x":{"field":"x","type":"quantitative","scale":{"domain":[0,39],"nice":false},"axis":{"values":[0,10,20,30],"labelExpr":"''+datum.value","title":null}},"y":{"field":"lo","type":"quantitative","scale":{"zero":false,"nice":false},"axis":{"values":[-0.4,-0.3,-0.2,-0.1,0,0.1],"labelExpr":"''+datum.value","title":null}},"y2":{"field":"hi"}}},
 {"data":{"values":[{"z":0}]},"mark":{"type":"rule","color":"#0000ff","strokeWidth":1,"opacity":0.8},"encoding":{"y":{"field":"z","type":"quantitative","axis":null}}},
 {"transform":[{"filter":"datum.p=='l'"}],"mark":{"type":"line","color":"#ff0000","strokeWidth":3.6,"strokeJoin":"round"},"encoding":{"x":{"field":"x","type":"quantitative","axis":{"orient":"top","values":[0,10,20,30],"labels":false,"title":null}},"y":{"field":"m","type":"quantitative","axis":{"orient":"right","values":[-0.4,-0.3,-0.2,-0.1,0,0.1],"labels":false,"title":null}}}}
],"resolve":{"axis":{"x":"independent","y":"independent"}}}
],
"config": {
 "font": "Liberation Sans",
 "view": {"stroke": "#6f6f6f", "strokeWidth": 1},
 "axis": {"grid": false, "domain": false, "tickColor": "#6f6f6f", "tickSize": -3.5, "tickWidth": 1, "labelFont": "Liberation Sans", "labelFontSize": 15.5, "labelColor": "#262626", "labelPadding": 10, "labelFlush": false, "labelOverlap": false, "titleFont": "Liberation Sans"},
 "axisY": {"labelPadding": 9.5},
 "title": {"font": "Liberation Sans", "fontSize": 21.5, "fontWeight": "bold", "color": "#000000", "baseline": "alphabetic", "offset": -2.5, "anchor": "middle", "frame": "group"}
}
}
